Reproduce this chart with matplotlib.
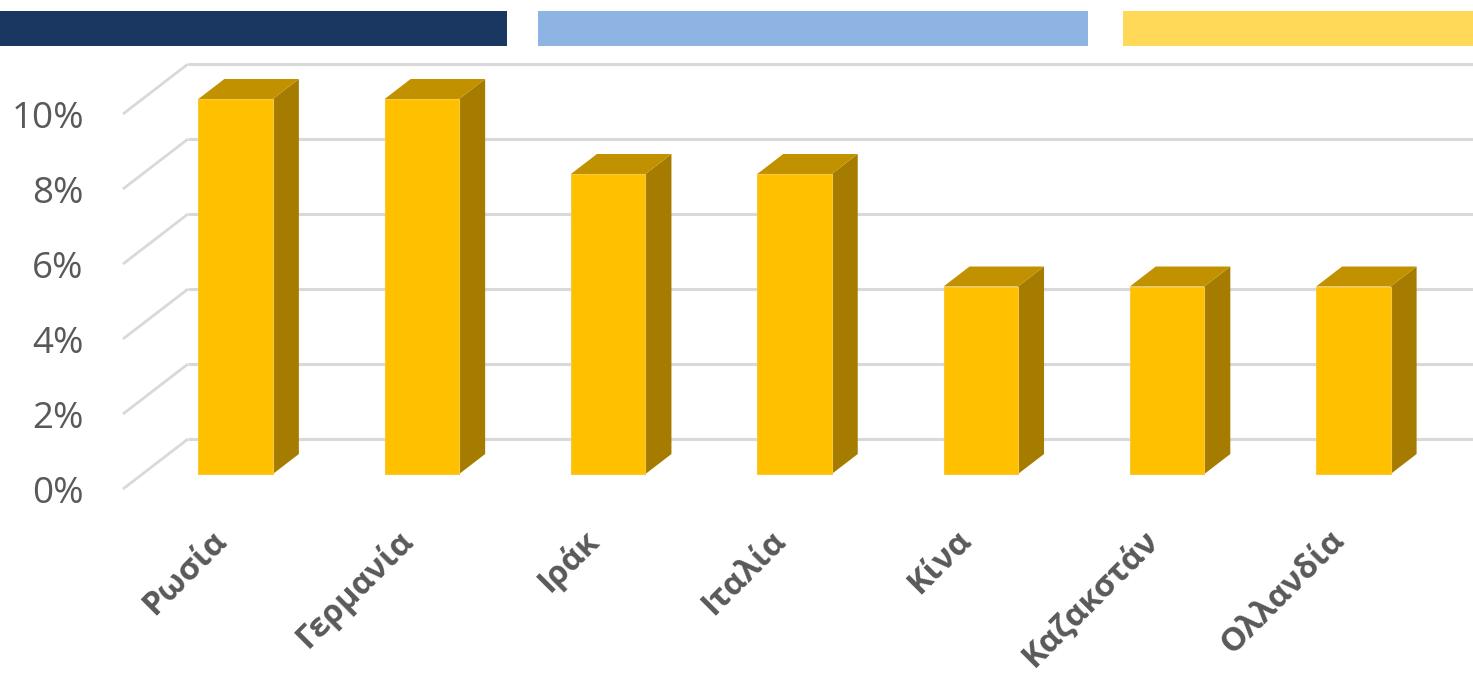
import matplotlib.pyplot as plt
from matplotlib.patches import Rectangle, Polygon

plt.rcParams['font.family'] = ['Open Sans', 'DejaVu Sans']

countries = ['Ρωσία', 'Γερμανία', 'Ιράκ', 'Ιταλία', 'Κίνα', 'Καζακστάν', 'Ολλανδία']
shares = [10, 10, 8, 8, 5, 5, 5]
yticks = [0, 2, 4, 6, 8, 10]
ytick_labels = ['0%', '2%', '4%', '6%', '8%', '10%']

FRONT = '#FFC000'
TOP = '#C29100'
SIDE = '#A67C00'
GRID = '#D9D9D9'
TEXT = '#595959'

# oblique depth of the chart box (category units, percent units)
DX, DY = 0.349, 1.333
BAR_W = 0.4
D0, D1 = 0.3, 0.7   # bar front/back depth as fraction of box depth

fig = plt.figure(figsize=(14.73, 6.80), dpi=100)
ax = fig.add_axes([0, 0, 1, 1])
ax.set_xlim(-1.160, 6.747)
ax.set_ylim(-5.093, 13.04)
ax.axis('off')

# header strips
for x0, x1, c in [(0, 507, '#193760'), (538, 1088, '#8EB4E3'), (1123, 1473, '#FFD957')]:
    fig.patches.append(Rectangle((x0 / 1473, 1 - 46 / 680), (x1 - x0) / 1473, 35 / 680,
                                 transform=fig.transFigure, facecolor=c, edgecolor='none'))

# gridlines: diagonal on the side wall, horizontal on the back wall
left = -0.5
for v in yticks:
    ax.plot([left, left + DX], [v, v + DY], color=GRID, lw=2.0, solid_capstyle='butt', zorder=1)
    ax.plot([left + DX, 7.5], [v + DY, v + DY], color=GRID, lw=2.2, solid_capstyle='butt', zorder=1)

bx, by = (D1 - D0) * DX, (D1 - D0) * DY
for i, v in enumerate(shares):
    xl = i - BAR_W / 2 + D0 * DX
    xr = xl + BAR_W
    y0 = D0 * DY
    y1 = v + y0
    ax.add_patch(Polygon([(xr, y0), (xr, y1), (xr + bx, y1 + by), (xr + bx, y0 + by)],
                         closed=True, facecolor=SIDE, edgecolor='none', zorder=3))
    ax.add_patch(Polygon([(xl, y1), (xr, y1), (xr + bx, y1 + by), (xl + bx, y1 + by)],
                         closed=True, facecolor=TOP, edgecolor='none', zorder=3))
    ax.add_patch(Rectangle((xl, y0), BAR_W, v, facecolor=FRONT,
                           edgecolor='#F5C93A', lw=0.8, zorder=4))

for v, lab in zip(yticks, ytick_labels):
    ax.text(left - 0.21, v - 0.12, lab, ha='right', va='center', fontsize=26.5, color=TEXT)

for i, name in enumerate(countries):
    ax.text(i + 0.03, -1.25, name, rotation=45, rotation_mode='anchor',
            ha='right', va='center', fontsize=23.5, fontweight='bold', color=TEXT)

fig.savefig('out.png', dpi=100)
